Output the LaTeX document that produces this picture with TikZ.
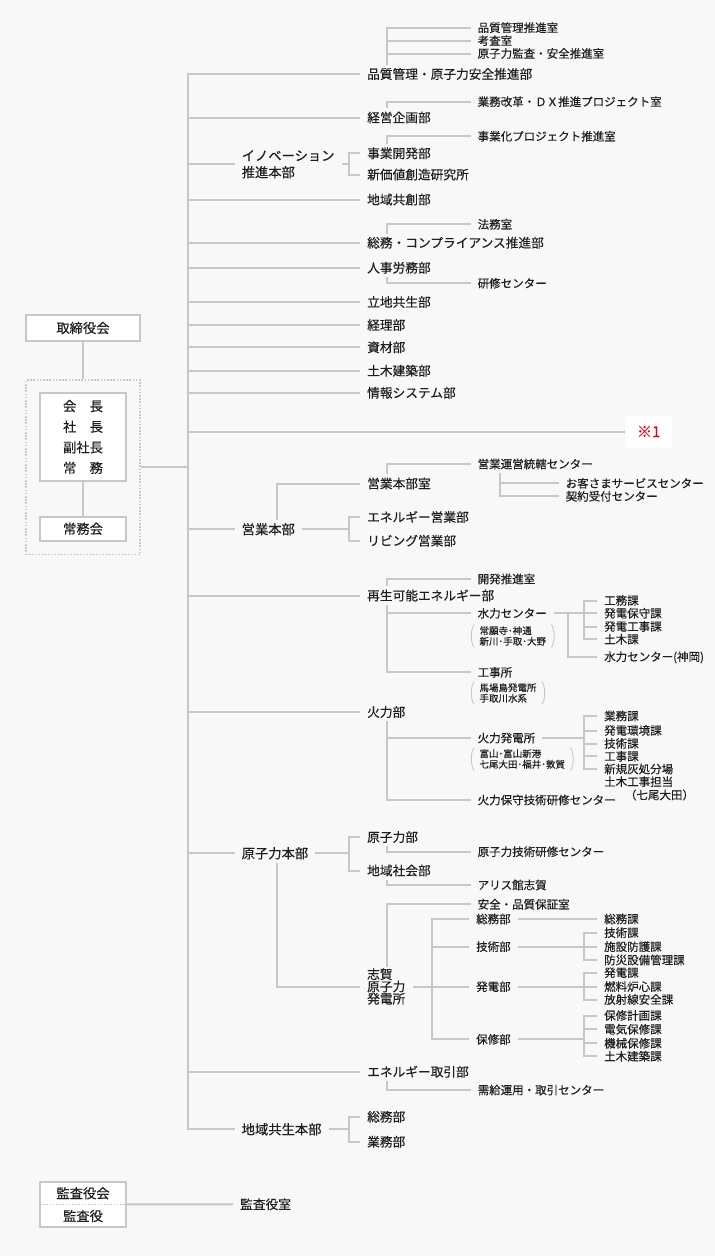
\documentclass[tikz,border=0pt]{standalone}
\usepackage{fontspec}
\setmainfont{Noto Sans CJK JP}[UprightFeatures={FakeBold=0.3}]
\usetikzlibrary{positioning}
\definecolor{bgcol}{RGB}{248,248,248}
\definecolor{linecol}{RGB}{200,200,200}
\definecolor{inkcol}{RGB}{30,30,30}
\definecolor{notered}{RGB}{230,0,18}

\begin{document}
\begin{tikzpicture}[x=1pt,y=-1pt,
  conn/.style={draw=linecol,line width=2pt},
  paren/.style={draw=linecol,line width=0.9pt},
  lbl/.style={anchor=west,inner xsep=7pt,inner ysep=2.6pt,text=inkcol},
  hqfont/.style={font=\fontsize{13.3}{16.7}\selectfont},
  hq/.style={lbl,hqfont,text height=11.7pt,text depth=1.6pt},
  hqmulti/.style={lbl,hqfont,align=left,inner ysep=1pt},
  dept/.style={lbl,font=\fontsize{12.7}{13}\selectfont,text height=11.2pt,text depth=1.5pt},
  deptmulti/.style={lbl,font=\fontsize{12.7}{12.3}\selectfont,align=left,inner ysep=1pt},
  sect/.style={lbl,font=\fontsize{11.5}{12}\selectfont,text height=10.1pt,text depth=1.4pt},
  notetext/.style={anchor=west,inner xsep=5pt,inner ysep=1.5pt,align=left,text=inkcol,font=\fontsize{9.5}{10.6}\selectfont},
  orgbox/.style={draw=linecol,line width=2pt,fill=white,text=inkcol,font=\fontsize{13.3}{20.6}\selectfont,align=center,inner sep=0pt},
  dotline/.style={draw=linecol,line width=1.8pt,dash pattern=on 1.6pt off 1.6pt},
]
\useasboundingbox (0,0) rectangle (715,1256);
\fill[bgcol] (0,0) rectangle (715,1256);

\coordinate (trunk) at (188,0);
\coordinate (colA) at (387,0);
\coordinate (colB) at (349,0);
\coordinate (colC) at (276.5,0);
\coordinate (colD) at (499.5,0);
\coordinate (colE) at (568,0);
\coordinate (colF) at (584,0);
\coordinate (colG) at (431.5,0);

\node[orgbox,minimum width=114pt,minimum height=26pt] (board) at (83,328) {取締役会};
\node[dotline,minimum width=114pt,minimum height=174.5pt,inner sep=0pt] (officers) at (83,467.25) {};
\node[orgbox,minimum width=86pt,minimum height=88pt] (execs) at (83,437) {会　長\\社　長\\副社長\\常　務};
\node[orgbox,minimum width=86pt,minimum height=24.5pt] (jomu) at (83,528.75) {常務会};
\node[orgbox,minimum width=86pt,minimum height=45.6pt] (audit) at (83,1204.5) {};
\node[orgbox,draw=none,fill=none] (auditboard) at (83,1193.3) {監査役会};
\node[orgbox,draw=none,fill=none] (auditor) at (83,1216) {監査役};
\node[dept] (auditoffice) at (233,1204.3) {監査役室};

\node[dept] (qa) at (360,74) {品質管理・原子力安全推進部};
\node[dept] (plan) at (360,117.5) {経営企画部};
\node[hqmulti] (innov) at (234.5,164.3) {イノベーション\\推進本部};
\node[dept] (bizdev) at (360,153.3) {事業開発部};
\node[dept] (newval) at (360,174.5) {新価値創造研究所};
\node[dept] (coc) at (360,199.5) {地域共創部};
\node[dept] (gacomp) at (360,242.7) {総務・コンプライアンス推進部};
\node[dept] (hr) at (360,267.7) {人事労務部};
\node[dept] (siting) at (360,302) {立地共生部};
\node[dept] (acct) at (360,325) {経理部};
\node[dept] (procure) at (360,347.3) {資材部};
\node[dept] (civil) at (360,370.7) {土木建築部};
\node[dept] (infosys) at (360,392.7) {情報システム部};
\node[anchor=west,fill=white,minimum width=47pt,minimum height=32pt,inner sep=0pt,text=notered,font=\fontsize{15}{16}\selectfont] (remark) at (625,431.5) {※1};
\node[hq] (sales) at (234.5,529.3) {営業本部};
\node[dept] (salesoff) at (360,483.5) {営業本部室};
\node[dept] (energysales) at (360,517) {エネルギー営業部};
\node[dept] (living) at (360,540.7) {リビング営業部};
\node[dept] (renew) at (360,595.5) {再生可能エネルギー部};
\node[dept] (thermal) at (360,712) {火力部};
\node[hq] (nuchq) at (234.5,853.3) {原子力本部};
\node[dept] (nuc) at (360,837) {原子力部};
\node[dept] (community) at (360,870.5) {地域社会部};
\node[deptmulti] (shika) at (360,986.5) {志賀\\原子力\\発電所};
\node[dept] (trade) at (360,1071.7) {エネルギー取引部};
\node[hq] (regionhq) at (234.5,1129.3) {地域共生本部};
\node[dept] (reggen) at (360,1116.7) {総務部};
\node[dept] (regbiz) at (360,1141.7) {業務部};

\node[sect] (qaprom) at (470.5,27.7) {品質管理推進室};
\node[sect] (review) at (470.5,40.7) {考査室};
\node[sect] (nucaudit) at (470.5,53.5) {原子力監査・安全推進室};
\node[sect] (dxoff) at (470.5,101.7) {業務改革・ＤＸ推進プロジェクト室};
\node[sect] (projoff) at (470.5,136.3) {事業化プロジェクト推進室};
\node[sect] (legal) at (470.5,224.3) {法務室};
\node[sect] (training) at (470.5,283.3) {研修センター};
\node[sect] (salesops) at (470.5,464) {営業運営統轄センター};
\node[sect] (custsvc) at (558.5,483.3) {お客さまサービスセンター};
\node[sect] (contract) at (558.5,496.3) {契約受付センター};
\node[sect] (devprom) at (470.5,579) {開発推進室};
\node[sect] (hydro) at (470.5,613.3) {水力センター};
\node[notetext] (hydronote) at (474.3,636) {常願寺･神通\\新川･手取･大野};
\node[sect] (hyd1) at (597,600.5) {工務課};
\node[sect] (hyd2) at (597,613.3) {発電保守課};
\node[sect] (hyd3) at (597,626.5) {発電工事課};
\node[sect] (hyd4) at (597,639.3) {土木課};
\node[sect] (kamioka) at (597,656.7) {水力センター(神岡)};
\node[sect] (works) at (470.5,672.3) {工事所};
\node[notetext] (worksnote) at (474.3,693) {馬場島発電所\\手取川水系};
\node[sect] (tps) at (470.5,738) {火力発電所};
\node[notetext] (tpsnote) at (474.3,759) {富山･富山新港\\七尾大田･福井･敦賀};
\node[sect] (tps1) at (597,716) {業務課};
\node[sect] (tps2) at (597,730.5) {発電環境課};
\node[sect] (tps3) at (597,743.5) {技術課};
\node[sect] (tps4) at (597,756.3) {工事課};
\node[sect] (tps5) at (597,769) {新規灰処分場};
\node[sect] (tps6) at (597,781.7) {土木工事担当};
\node[sect] (tps7) at (617.8,795) {（七尾大田）};
\node[sect] (tpstrain) at (470.5,800) {火力保守技術研修センター};
\node[sect] (nuctrain) at (470.5,851.7) {原子力技術研修センター};
\node[sect] (alice) at (470.5,885) {アリス館志賀};
\node[sect] (safety) at (470.5,904.3) {安全・品質保証室};
\node[sect] (shgen) at (469,919) {総務部};
\node[sect] (shtech) at (469,946.7) {技術部};
\node[sect] (shpow) at (469,986.7) {発電部};
\node[sect] (shmnt) at (469,1039.3) {保修部};
\node[sect] (sg1) at (597,919) {総務課};
\node[sect] (st1) at (597,932.7) {技術課};
\node[sect] (st2) at (597,946.7) {施設防護課};
\node[sect] (st3) at (597,960) {防災設備管理課};
\node[sect] (sp1) at (597,972.7) {発電課};
\node[sect] (sp2) at (597,986.7) {燃料炉心課};
\node[sect] (sp3) at (597,999.5) {放射線安全課};
\node[sect] (sm1) at (597,1015.5) {保修計画課};
\node[sect] (sm2) at (597,1029.3) {電気保修課};
\node[sect] (sm3) at (597,1043.3) {機械保修課};
\node[sect] (sm4) at (597,1056.3) {土木建築課};
\node[sect] (supply) at (470.5,1090) {需給運用・取引センター};

\draw[conn] (board) -- (officers);
\draw[conn] (execs) -- (jomu);
\draw[conn] (officers) -- (officers -| trunk);
\draw[dotline] ([xshift=1pt]audit.west) -- ([xshift=-2pt]audit.east);
\draw[conn] (audit) -- (auditoffice);

\draw[conn] (qa) -| (regionhq -| trunk) -- (regionhq);
\foreach \n in {plan,innov,coc,gacomp,hr,siting,acct,procure,civil,infosys,remark,sales,renew,thermal,nuchq,trade}
  \draw[conn] (\n) -- (\n -| trunk);

\foreach \n in {qaprom,review,nucaudit} \draw[conn] (\n) -| (qa.north -| colA);
\draw[conn] (dxoff) -| (plan.north -| colA);
\draw[conn] (projoff) -| (bizdev.north -| colA);
\draw[conn] (legal) -| (gacomp.north -| colA);
\draw[conn] (training) -| (hr.south -| colA);
\draw[conn] (salesops) -| (salesoff.north -| colA);
\draw[conn] (nuctrain) -| (nuc.south -| colA);
\draw[conn] (alice) -| (community.south -| colA);
\draw[conn] (safety) -| (shika.north -| colA);
\draw[conn] (supply) -| (trade.south -| colA);
\draw[conn] (devprom) -| (renew.north -| colA);
\draw[conn] (renew.south -| colA) |- (works);
\draw[conn] (hydro) -- (hydro -| colA);
\draw[conn] (thermal.south -| colA) |- (tpstrain);
\draw[conn] (tps) -- (tps -| colA);

\draw[conn] (bizdev) -| (colB |- newval) -- (newval);
\draw[conn] (innov) -- (innov -| colB);
\draw[conn] (energysales) -| (colB |- living) -- (living);
\draw[conn] (sales) -- (sales -| colB);
\draw[conn] (sales.north -| colC) |- (salesoff);
\draw[conn] (nuc) -| (colB |- community) -- (community);
\draw[conn] (nuchq) -- (nuchq -| colB);
\draw[conn] (nuchq.south -| colC) |- (shika);
\draw[conn] (reggen) -| (colB |- regbiz) -- (regbiz);
\draw[conn] (regionhq) -- (regionhq -| colB);

\foreach \n in {custsvc,contract} \draw[conn] (\n) -| (salesops.south -| colD);

\draw[conn] (hydro) -- (hydro -| colF);
\foreach \n in {hyd1,hyd2,hyd3,hyd4} \draw[conn] (\n) -| (colF |- hydro);
\draw[conn] (kamioka) -| (colE |- hydro);
\draw[conn] (tps) -- (tps -| colF);
\foreach \n in {tps1,tps2,tps3,tps4,tps5} \draw[conn] (\n) -| (colF |- tps);

\draw[conn] (shika) -- (shika -| colG);
\foreach \n in {shgen,shtech,shpow,shmnt} \draw[conn] (\n) -| (colG |- shika);
\draw[conn] (shgen) -- (sg1);
\draw[conn] (shtech) -- (shtech -| colF);
\foreach \n in {st1,st2,st3} \draw[conn] (\n) -| (colF |- shtech);
\draw[conn] (shpow) -- (shpow -| colF);
\foreach \n in {sp1,sp2,sp3} \draw[conn] (\n) -| (colF |- shpow);
\draw[conn] (shmnt) -- (shmnt -| colF);
\foreach \n in {sm1,sm2,sm3,sm4} \draw[conn] (\n) -| (colF |- shmnt);

\foreach \n in {hydronote,worksnote,tpsnote} {
  \draw[paren] (\n.north west) .. controls +(-4,4) and +(-4,-4) .. (\n.south west);
  \draw[paren] (\n.north east) .. controls +(4,4) and +(4,-4) .. (\n.south east);
}
\end{tikzpicture}
\end{document}
